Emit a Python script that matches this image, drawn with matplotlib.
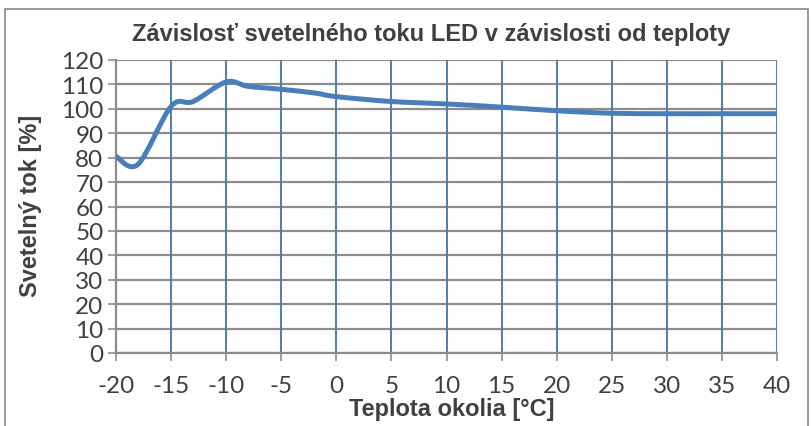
import numpy as np
import matplotlib
matplotlib.use("Agg")
from matplotlib import pyplot as plt
from matplotlib.path import Path
from matplotlib.patches import PathPatch, Rectangle

# teplota okolia [°C] a svetelny tok [%]
teplota = [-20, -18, -15, -13, -10, -8, -5, -2, 0, 5, 10, 15, 20, 25, 30, 35, 40]
tok = [80.5, 77.3, 101, 103, 111, 109.2, 108, 106.5, 105, 103, 102, 100.7, 99.2, 98.2, 98, 98, 98]

x_ticks = list(range(-20, 41, 5))
y_ticks = list(range(0, 121, 10))

title = "Závislosť svetelného toku LED v závislosti od teploty"
xlabel = "Teplota okolia [°C]"
ylabel = "Svetelný tok [%]"

line_color = "#4a7ebb"
grid_gray = "#8c8c8c"
text_color = "#404040"

plt.rcParams["axes.unicode_minus"] = False


def smooth_path(xs, ys):
    # excel-like smoothed line: cubic bezier through every point
    pts = np.column_stack([xs, ys]).astype(float)
    n = len(pts)
    verts = [pts[0]]
    codes = [Path.MOVETO]
    for i in range(n - 1):
        p0 = pts[i - 1] if i > 0 else pts[i]
        p1 = pts[i]
        p2 = pts[i + 1]
        p3 = pts[i + 2] if i + 2 < n else pts[i + 1]
        c1 = p1 + (p2 - p0) / 6.0
        c2 = p2 - (p3 - p1) / 6.0
        verts += [c1, c2, p2]
        codes += [Path.CURVE4] * 3
    return Path(verts, codes)


fig = plt.figure(figsize=(8.11, 4.27), dpi=100)
ax = fig.add_axes([116 / 811, 1 - 354 / 427, (777 - 116) / 811, (354 - 61) / 427])

fig.patches.append(Rectangle((5 / 811, -0.01), 1 - 8 / 811, 1 - 10 / 427 + 0.01, transform=fig.transFigure,
                             fill=False, edgecolor="#888888", lw=1.2))

ax.set_xlim(-20, 40)
ax.set_ylim(0, 120)
ax.set_xticks(x_ticks)
ax.set_yticks(y_ticks)

for y in y_ticks:
    ax.axhline(y, color=grid_gray, lw=1.6, zorder=1)
for x in x_ticks:
    ax.axvline(x, color=line_color, lw=1.4, zorder=1)

ax.add_patch(PathPatch(smooth_path(teplota, tok), fill=False, edgecolor=line_color,
                       lw=3.6, capstyle="round", joinstyle="round", zorder=3))

for s in ["top", "right"]:
    ax.spines[s].set_visible(False)
for s in ["left", "bottom"]:
    ax.spines[s].set_color(grid_gray)
    ax.spines[s].set_linewidth(1.6)

ax.tick_params(axis="both", colors=grid_gray, length=6, width=1.2, labelcolor=text_color)
ax.tick_params(axis="x", pad=10)
ax.tick_params(axis="y", pad=3)
for lab in ax.get_xticklabels() + ax.get_yticklabels():
    lab.set_fontfamily("Lato")
    lab.set_fontsize(17.5)

fig.text(431 / 811, 1 - 34 / 427, title, ha="center", va="center", fontsize=17,
         fontweight="bold", color=text_color, family="Liberation Sans")
fig.text(452 / 811, 1 - 410 / 427, xlabel, ha="center", va="center", fontsize=17,
         fontweight="bold", color=text_color, family="Liberation Sans")
fig.text(31 / 811, 1 - 206 / 427, ylabel, ha="center", va="center", rotation=90, fontsize=17,
         fontweight="bold", color=text_color, family="Liberation Sans")

fig.savefig("out.png", dpi=100)
